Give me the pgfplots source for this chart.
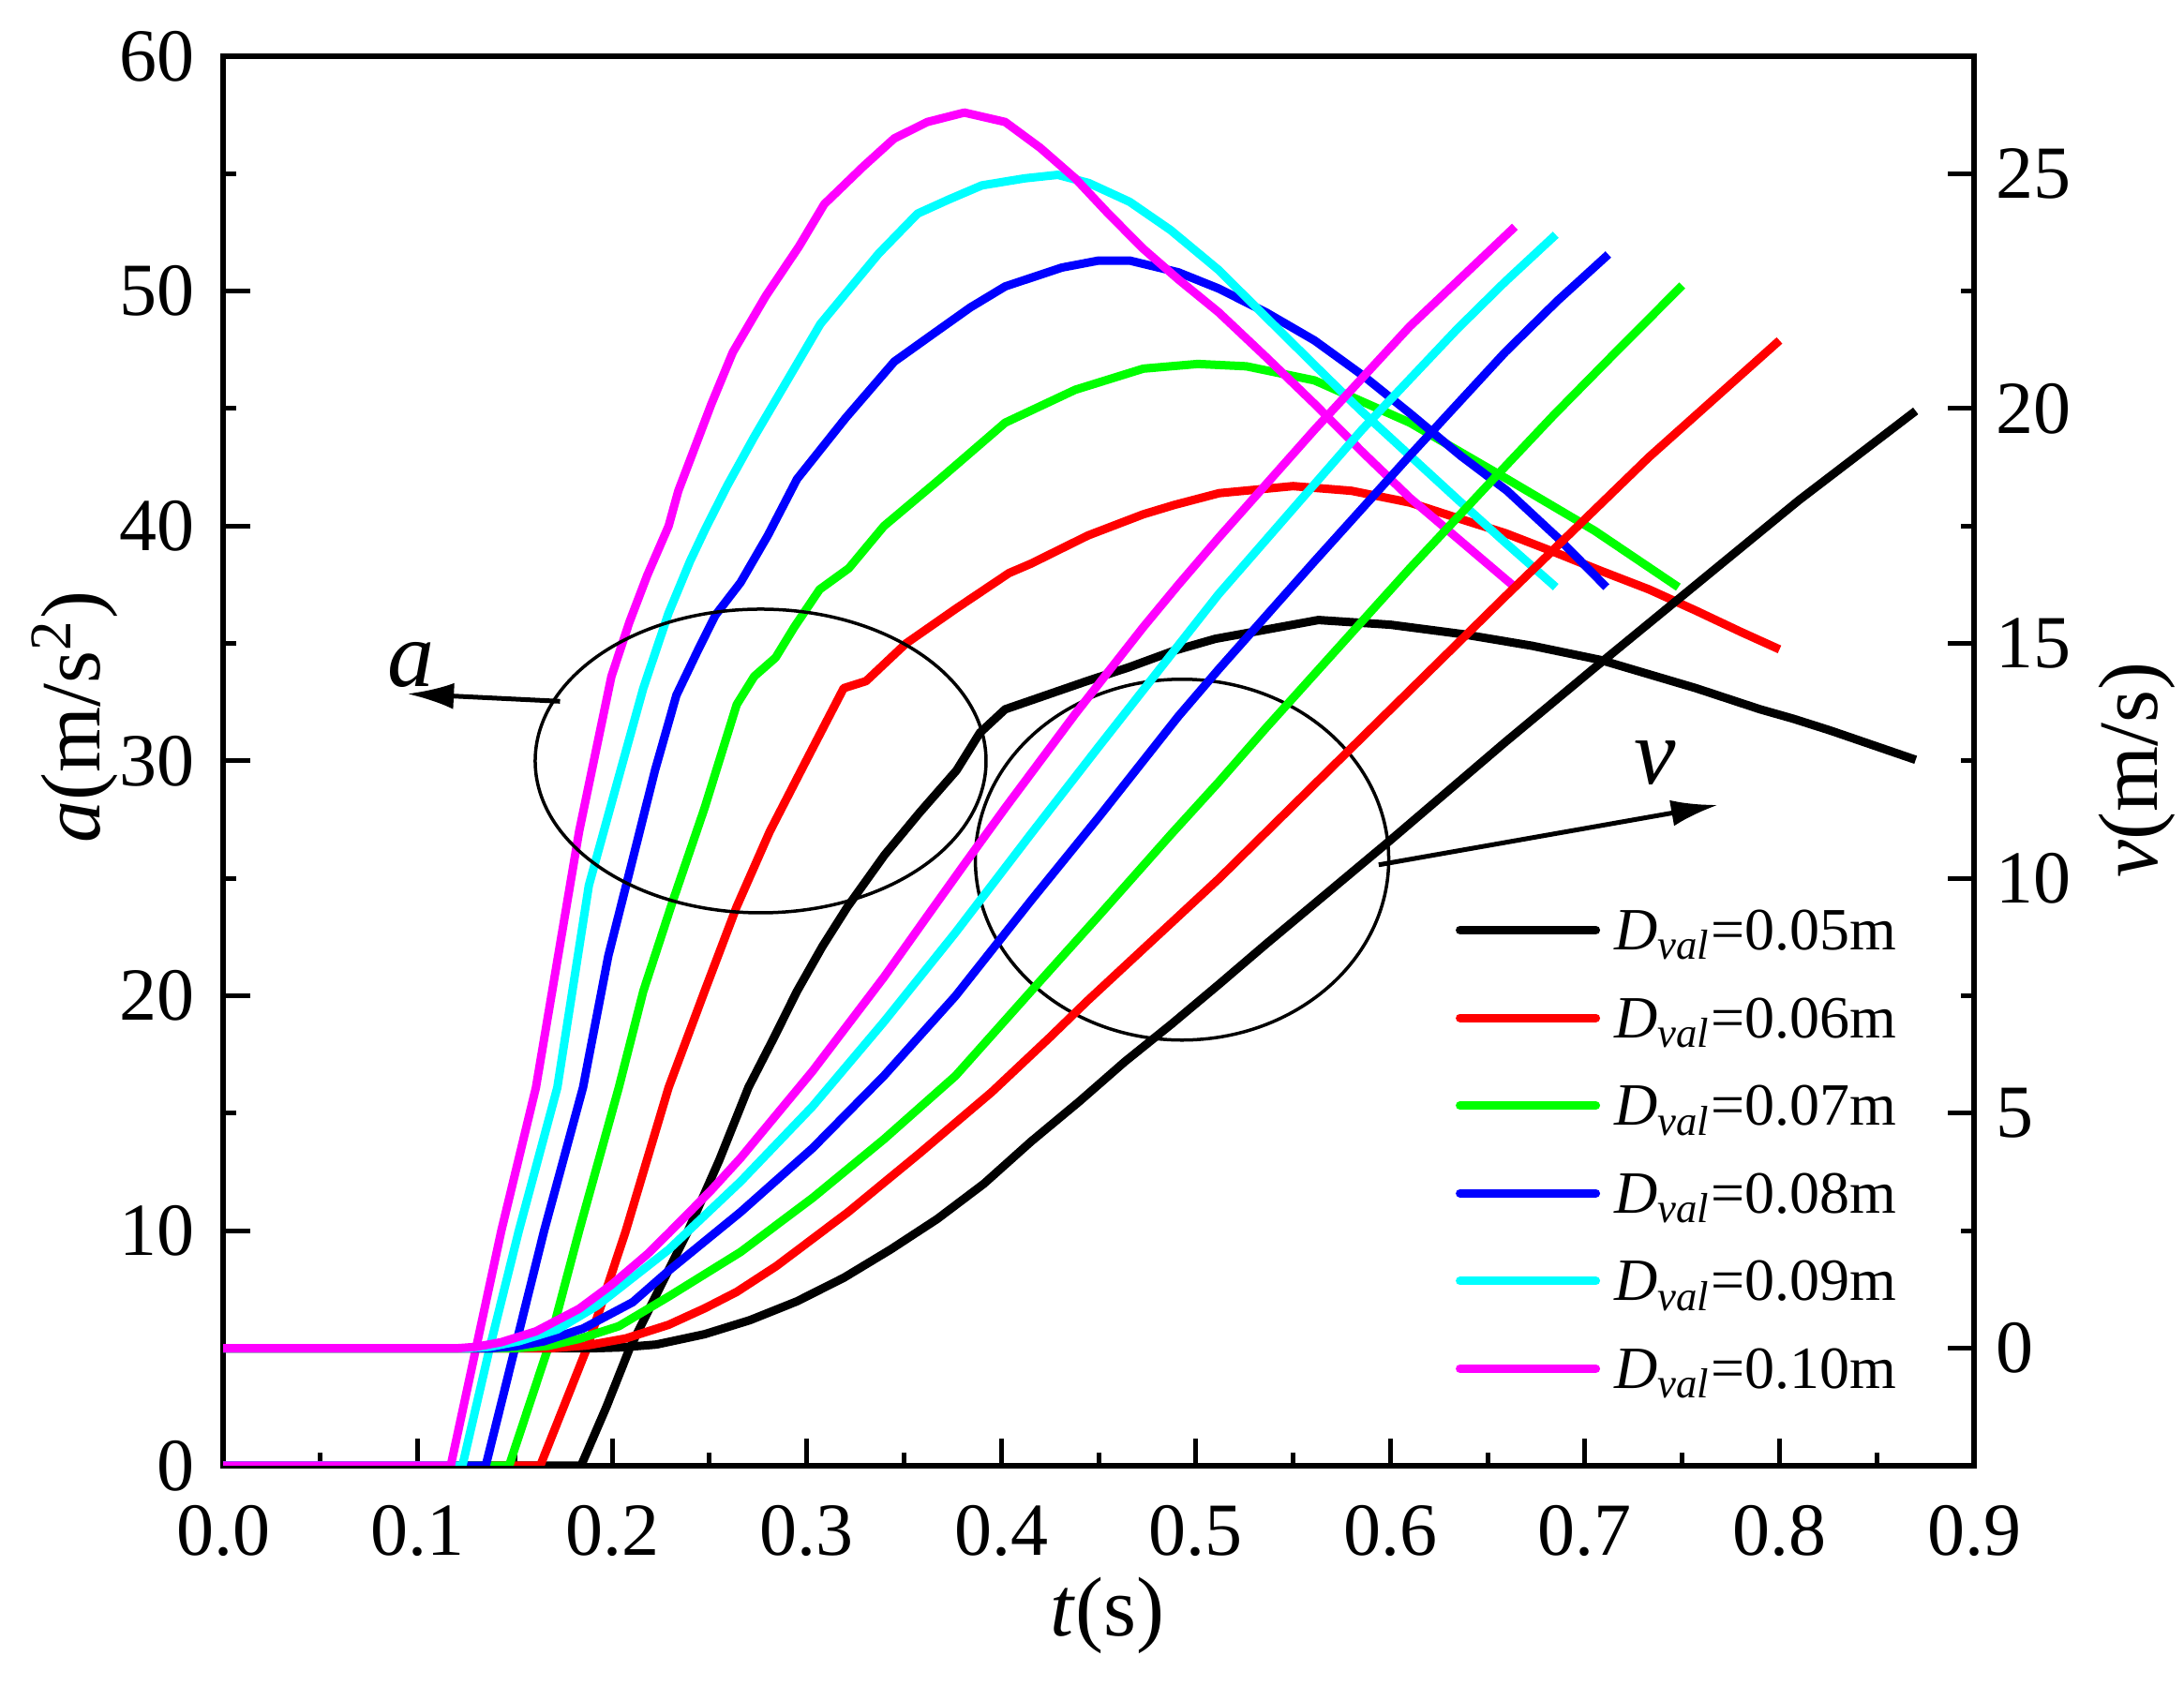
\documentclass[border=0pt]{standalone}
\usepackage{fontspec}
\setmainfont{Liberation Serif}
\usepackage{pgfplots}
\pgfplotsset{compat=1.18}
\usetikzlibrary{arrows.meta,calc}
\definecolor{cK}{RGB}{0,0,0}
\definecolor{cR}{RGB}{255,0,0}
\definecolor{cG}{RGB}{0,255,0}
\definecolor{cB}{RGB}{0,0,255}
\definecolor{cC}{RGB}{0,255,255}
\definecolor{cM}{RGB}{255,0,255}
\pgfplotsset{
  common/.style={
    scale only axis, width=373.6pt, height=300.8pt,
    xmin=0, xmax=0.9,
    tick align=inside,
    major tick length=5.7pt, minor tick length=2.8pt,
    every tick/.style={black, line width=1pt},
    tick label style={font=\fontsize{16}{16}\selectfont, inner sep=0pt},
    label style={font=\fontsize{18}{18}\selectfont},
    /pgf/number format/assume math mode=true,
    axis line style={line width=1.1pt},
    every axis plot/.append style={line width=1.8pt, line join=round},
  }
}
\begin{document}
\begin{tikzpicture}
\begin{axis}[common, name=ax,
  ymin=0, ymax=60,
  xtick={0,0.1,0.2,0.3,0.4,0.5,0.6,0.7,0.8,0.9},
  minor x tick num=1,
  ytick={0,10,20,30,40,50,60},
  minor y tick num=1,
  xtick pos=bottom, ytick pos=left,
  xticklabel style={/pgf/number format/.cd, fixed, fixed zerofill, precision=1, /tikz/.cd, yshift=-8.2pt},
  yticklabel style={xshift=-6pt},
  xlabel={\textit{t}(s)},
  ylabel={\textit{a}(m/s\textsuperscript{2})},
  xlabel style={at={(axis description cs:0.505,-0.1064)}, anchor=center},
  ylabel style={at={(axis description cs:-0.0846,0.531)}, anchor=center},
]
% a, D=0.05
\addplot[cK] coordinates {(0,0) (0.184,0) (0.197,2.5) (0.209,5) (0.224,7.5) (0.239,10) (0.255,13) (0.270,16.1) (0.283,18.2) (0.295,20.2) (0.308,22.1) (0.321,23.8) (0.340,26.0) (0.358,27.8) (0.377,29.6) (0.389,31.2) (0.402,32.2) (0.423,32.8) (0.444,33.4) (0.466,34.0) (0.489,34.7) (0.510,35.2) (0.530,35.5) (0.563,36.0) (0.600,35.8) (0.637,35.4) (0.673,34.9) (0.708,34.3) (0.757,33.1) (0.790,32.2) (0.807,31.8) (0.826,31.3) (0.870,30.05)};
% a, D=0.06
\addplot[cR] coordinates {(0,0) (0.163,0) (0.175,2.5) (0.187,5) (0.207,10) (0.229,16.1) (0.2475,20.2) (0.264,23.8) (0.281,27.0) (0.299,29.9) (0.319,33.1) (0.3305,33.4) (0.351,35.0) (0.377,36.5) (0.404,38.0) (0.4153,38.4) (0.4446,39.6) (0.473,40.5) (0.489,40.9) (0.512,41.4) (0.55,41.7) (0.58,41.5) (0.61,41.0) (0.636,40.3) (0.659,39.7) (0.684,38.9) (0.708,38.1) (0.733,37.3) (0.757,36.4) (0.78,35.5) (0.800,34.75)};
% a, D=0.07
\addplot[cG] coordinates {(0,0) (0.147,0) (0.167,5) (0.183,10) (0.2034,16.1) (0.216,20.2) (0.231,24.0) (0.2475,28.0) (0.264,32.4) (0.273,33.6) (0.284,34.4) (0.2936,35.7) (0.3066,37.3) (0.3216,38.2) (0.3397,40.0) (0.367,41.9) (0.402,44.4) (0.438,45.8) (0.473,46.7) (0.501,46.9) (0.526,46.8) (0.561,46.2) (0.61,44.4) (0.635,43.2) (0.66,42.0) (0.705,39.8) (0.748,37.4)};
% a, D=0.08
\addplot[cB] coordinates {(0,0) (0.135,0) (0.150,5) (0.165,10) (0.185,16.1) (0.198,21.7) (0.2105,25.8) (0.222,29.6) (0.233,32.8) (0.244,34.7) (0.253,36.2) (0.266,37.6) (0.280,39.6) (0.295,42.0) (0.320,44.6) (0.345,47.0) (0.367,48.3) (0.384,49.3) (0.402,50.2) (0.431,51.0) (0.45,51.3) (0.466,51.3) (0.491,50.8) (0.512,50.1) (0.536,49.1) (0.561,47.9) (0.586,46.4) (0.61,44.8) (0.636,43.0) (0.66,41.5) (0.686,39.5) (0.711,37.4)};
% a, D=0.09
\addplot[cC] coordinates {(0,0) (0.123,0) (0.137,5) (0.152,10) (0.1718,16.1) (0.188,24.7) (0.2033,29.3) (0.216,33.1) (0.229,36.3) (0.240,38.5) (0.248,39.9) (0.259,41.7) (0.273,43.8) (0.290,46.2) (0.307,48.6) (0.323,50.2) (0.337,51.6) (0.357,53.3) (0.373,53.9) (0.390,54.5) (0.412,54.8) (0.429,54.95) (0.445,54.6) (0.466,53.8) (0.487,52.6) (0.5117,50.9) (0.536,48.9) (0.561,46.85) (0.585,44.9) (0.61,43.0) (0.635,41.1) (0.659,39.3) (0.685,37.4)};
% a, D=0.10
\addplot[cM] coordinates {(0,0) (0.117,0) (0.130,5) (0.143,10) (0.1608,16.1) (0.183,27.0) (0.1996,33.6) (0.2088,35.9) (0.218,37.9) (0.229,40.0) (0.234,41.5) (0.251,45.2) (0.262,47.4) (0.279,49.8) (0.296,51.9) (0.309,53.7) (0.329,55.3) (0.345,56.5) (0.362,57.2) (0.381,57.6) (0.402,57.2) (0.420,56.1) (0.438,54.8) (0.455,53.3) (0.473,51.8) (0.491,50.5) (0.5117,49.1) (0.536,47.2) (0.561,45.2) (0.585,43.2) (0.61,41.2) (0.637,39.3) (0.664,37.4)};
% annotations
\draw[line width=0.7pt] (axis cs:0.2763,30.0) ellipse [x radius=48.1pt, y radius=32.4pt];
\draw[line width=0.7pt] (axis cs:0.4929,25.8) ellipse [x radius=44.1pt, y radius=38.5pt];
\draw[line width=1pt, -{Latex[length=10pt,width=5.6pt]}] (axis cs:0.1732,32.54) -- (axis cs:0.0945,32.86);
\draw[line width=1pt, -{Latex[length=10pt,width=5.6pt]}] (axis cs:0.594,25.58) -- (axis cs:0.7684,28.13);
\node[inner sep=0pt, font=\fontsize{20}{20}\selectfont\itshape] at (axis cs:0.0966,34.1) {a};
\node[inner sep=0pt, font=\fontsize{20}{20}\selectfont\itshape] at (axis cs:0.736,29.9) {v};
\end{axis}
\begin{axis}[common,
  ymin=-2.5, ymax=27.5,
  axis y line*=right, axis x line=none,
  ytick={0,5,10,15,20,25},
  minor y tick num=1,
  yticklabel style={xshift=4.4pt},
  ylabel={\textit{v}(m/s)},
  ylabel style={at={(axis description cs:1.0931,0.4936)}, anchor=center},
  legend style={at={(axis description cs:0.704,0.396)}, anchor=north west, draw=none, fill=none,
    inner sep=0pt, outer sep=0pt, row sep=9.12pt, column sep=3pt,
    nodes={inner sep=0pt, text height=9pt, text depth=0.6pt, font=\fontsize{12.8}{12.8}\selectfont},
    cells={anchor=west}},
  legend image code/.code={\draw[#1, line width=1.8pt, line cap=round] (0pt,0pt) -- (29pt,0pt);},
]
\addplot[cK] coordinates {(0,0) (0.190,0) (0.205,0.02) (0.2227,0.08) (0.2475,0.3) (0.2709,0.6) (0.295,1.0) (0.319,1.5) (0.343,2.1) (0.367,2.75) (0.391,3.5) (0.4153,4.4) (0.44,5.25) (0.4635,6.1) (0.4875,6.9) (0.512,7.75) (0.536,8.6) (0.5996,10.8) (0.659,12.9) (0.704,14.45) (0.757,16.25) (0.81,18.05) (0.87,19.95)};
\addlegendentry{\textit{D}\textsubscript{\textit{val}}=0.05m}
\addplot[cR] coordinates {(0,0) (0.168,0) (0.187,0.06) (0.207,0.21) (0.229,0.5) (0.2475,0.85) (0.264,1.2) (0.2844,1.75) (0.3213,2.9) (0.358,4.15) (0.395,5.45) (0.4245,6.6) (0.4444,7.4) (0.473,8.5) (0.512,10.0) (0.5854,13.0) (0.659,16.0) (0.733,18.97) (0.8,21.45)};
\addlegendentry{\textit{D}\textsubscript{\textit{val}}=0.06m}
\addplot[cG] coordinates {(0,0) (0.150,0) (0.167,0.05) (0.183,0.2) (0.2034,0.47) (0.229,1.1) (0.266,2.05) (0.303,3.2) (0.3397,4.45) (0.3765,5.8) (0.4153,7.6) (0.45,9.2) (0.4875,10.95) (0.5117,12.05) (0.536,13.2) (0.561,14.35) (0.61,16.6) (0.6495,18.35) (0.6837,19.85) (0.717,21.25) (0.750,22.62)};
\addlegendentry{\textit{D}\textsubscript{\textit{val}}=0.07m}
\addplot[cB] coordinates {(0,0) (0.137,0) (0.150,0.04) (0.165,0.15) (0.185,0.42) (0.2105,0.98) (0.229,1.65) (0.266,2.9) (0.303,4.26) (0.3397,5.8) (0.3765,7.5) (0.4153,9.53) (0.45,11.3) (0.491,13.45) (0.5117,14.45) (0.561,16.75) (0.61,19.0) (0.659,21.2) (0.686,22.3) (0.712,23.28)};
\addlegendentry{\textit{D}\textsubscript{\textit{val}}=0.08m}
\addplot[cC] coordinates {(0,0) (0.125,0) (0.137,0.03) (0.152,0.15) (0.1718,0.4) (0.192,0.9) (0.229,2.1) (0.266,3.55) (0.303,5.15) (0.3397,6.95) (0.3765,8.85) (0.4153,10.95) (0.45,12.8) (0.487,14.75) (0.5117,16.05) (0.5854,19.55) (0.6345,21.7) (0.659,22.7) (0.685,23.7)};
\addlegendentry{\textit{D}\textsubscript{\textit{val}}=0.09m}
\addplot[cM] coordinates {(0,0) (0.12,0) (0.130,0.03) (0.143,0.13) (0.1608,0.36) (0.183,0.84) (0.1996,1.35) (0.218,2.0) (0.229,2.45) (0.251,3.37) (0.266,4.05) (0.279,4.7) (0.303,5.9) (0.3397,7.9) (0.362,9.2) (0.381,10.3) (0.402,11.5) (0.420,12.5) (0.438,13.5) (0.455,14.4) (0.473,15.35) (0.491,16.25) (0.5117,17.25) (0.561,19.55) (0.61,21.75) (0.664,23.87)};
\addlegendentry{\textit{D}\textsubscript{\textit{val}}=0.10m}
\end{axis}
\pgfresetboundingbox
\path[use as bounding box] ($(ax.south west)+(-47.6pt,-46.8pt)$) rectangle ($(ax.north east)+(44.8pt,12pt)$);
\end{tikzpicture}
\end{document}
